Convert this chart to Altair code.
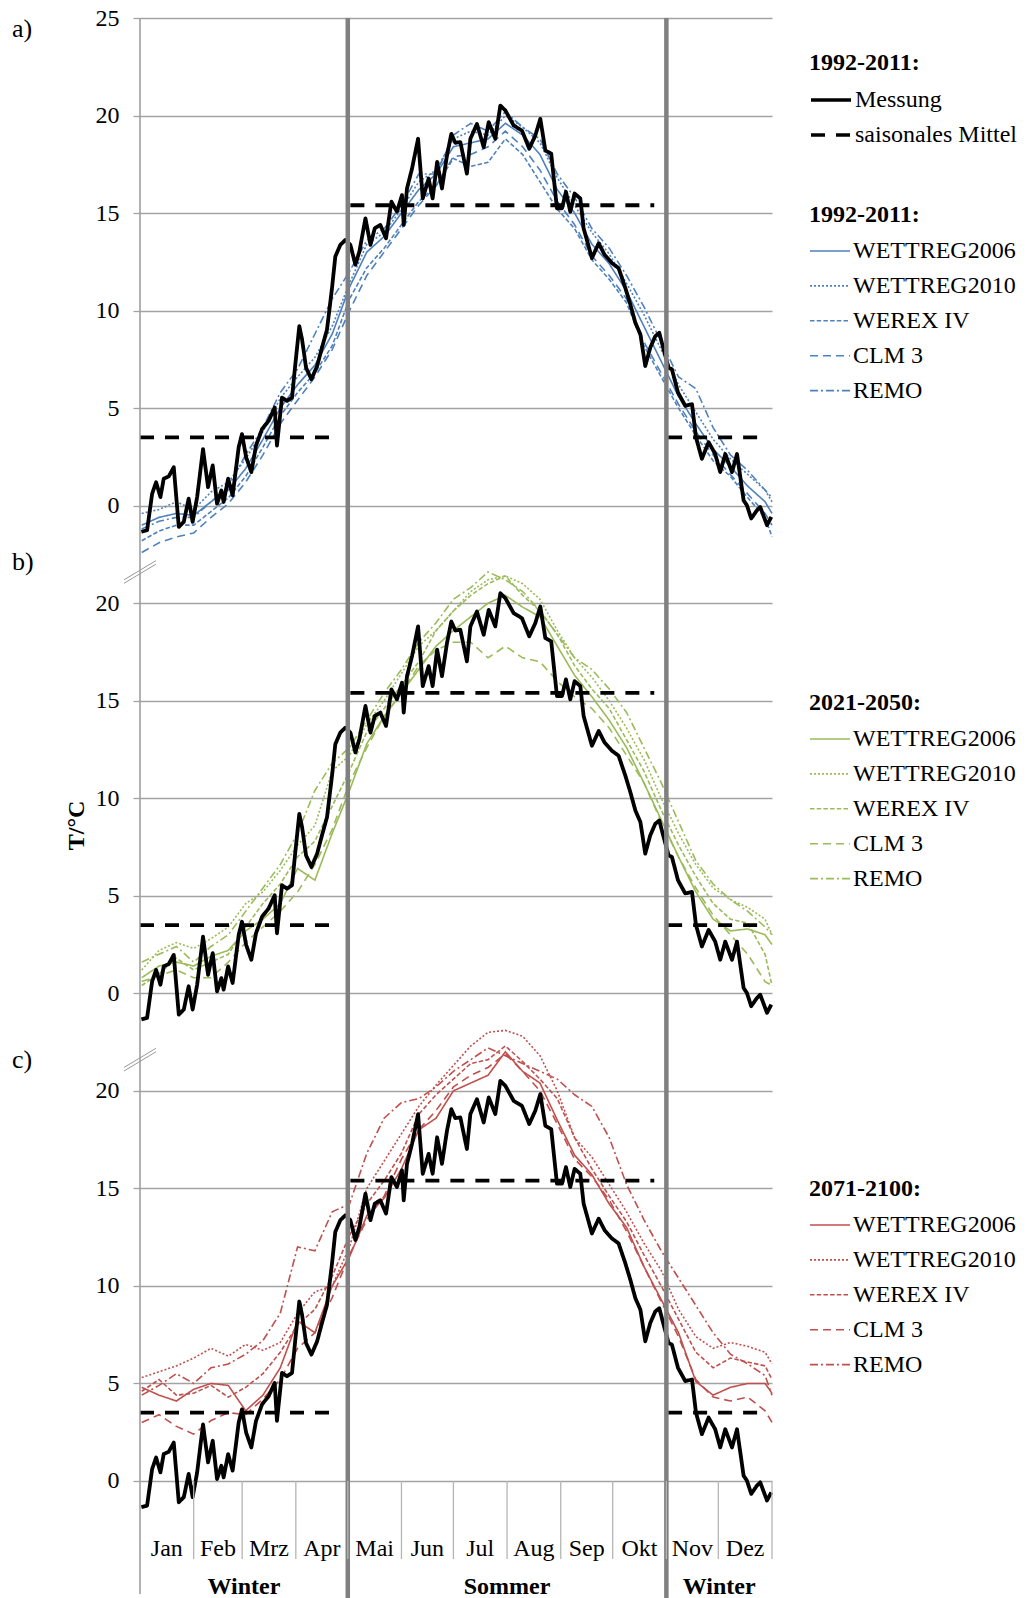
import altair as alt
import pandas as pd

FONT = "Liberation Serif"

# ---------------- categories / labels ----------------
MONTHS = ["Jan", "Feb", "Mrz", "Apr", "Mai", "Jun", "Jul", "Aug", "Sep", "Okt", "Nov", "Dez"]
MONTH_EDGES = [0, 31, 59, 90, 120, 151, 181, 212, 243, 273, 304, 334, 365]
SEASONS = ["Winter", "Sommer", "Winter"]
SEASON_MID = [60, 212, 334.5]
SEASON_EDGES = [120, 304]
PANELS = ["a", "b", "c"]
PANEL_LABELS = ["a)", "b)", "c)"]
PERIODS = ["1992-2011:", "1992-2011:", "2021-2050:", "2071-2100:"]
MODELS = ["WETTREG2006", "WETTREG2010", "WEREX IV", "CLM 3", "REMO"]
MESS_SERIES = ["Messung", "saisonales Mittel"]

# ---------------- measured series (same in all panels) ----------------
MESS_DAY = [0.8, 4.1, 7.0, 9.3, 11.8, 13.7, 16.6, 19.5, 22.4, 25.3,
            28.1, 30.4, 33.0, 36.4, 39.3, 42.0, 44.5, 47.0, 48.3, 50.9,
            53.5, 57.0, 58.9, 61.3, 64.3, 67.0, 70.5, 74.3, 77.8, 79.1,
            82.0, 84.9, 87.8, 89.7, 92.0, 93.6, 95.9, 99.0, 102.3, 105.1,
            108.0, 110.9, 112.8, 115.7, 118.6, 121.5, 124.4, 126.7, 130.2, 133.1,
            135.6, 138.8, 142.1, 145.2, 148.4, 151.3, 152.3, 154.2, 157.1, 160.6,
            163.3, 166.7, 169.0, 171.6, 174.4, 177.3, 179.8, 182.1, 185.0, 188.8,
            190.8, 194.6, 198.5, 201.4, 205.2, 208.1, 211.0, 215.8, 220.6, 224.8,
            228.3, 231.2, 234.1, 237.5, 240.8, 243.7, 246.0, 248.5, 251.0, 254.3,
            256.2, 261.0, 264.9, 268.3, 272.6, 276.4, 280.3, 283.2, 286.1, 289.0,
            291.8, 294.7, 297.6, 299.9, 302.4, 305.3, 307.2, 310.7, 314.9, 318.8,
            321.1, 324.5, 328.4, 332.2, 335.1, 338.0, 341.9, 344.8, 348.6, 350.5,
            353.0, 356.3, 358.2, 362.1, 364.6]
MESS_T = [-1.34, -1.26, 0.61, 1.2, 0.44, 1.38, 1.5, 1.97, -1.09, -0.83,
          0.36, -0.83, 0.44, 2.9, 0.95, 2.06, 0.1, 0.78, 0.19, 1.38,
          0.53, 3.0, 3.67, 2.48, 1.72, 3.08, 3.93, 4.35, 5.03, 3.08,
          5.54, 5.37, 5.54, 7.24, 9.2, 8.52, 7.07, 6.48, 7.16, 8.1,
          9.03, 11.16, 12.77, 13.37, 13.62, 13.37, 12.35, 13.03, 14.73, 13.37,
          14.22, 14.39, 13.71, 15.58, 15.07, 15.92, 14.39, 16.26, 17.28, 18.81,
          15.75, 16.77, 15.75, 17.62, 16.26, 17.96, 19.06, 18.6, 18.64, 17.02,
          18.81, 19.57, 18.38, 19.66, 18.81, 20.51, 20.26, 19.49, 19.23, 18.3,
          18.98, 19.83, 18.21, 18.04, 15.24, 15.24, 16.09, 15.07, 16.0, 15.75,
          14.22, 12.69, 13.45, 12.86, 12.43, 12.18, 11.16, 10.31, 9.37, 8.78,
          7.16, 8.1, 8.69, 8.86, 8.01, 7.07, 6.99, 5.8, 5.12, 5.2,
          3.5, 2.4, 3.25, 2.65, 1.72, 2.65, 1.72, 2.65, 0.27, 0.02,
          -0.66, -0.24, -0.07, -1.0, -0.58]

# seasonal means of the measurement
MEAN_START = [0, 121.5, 305]
MEAN_END = [113, 297, 357]
MEAN_T = [3.5, 15.4, 3.5]

# ---------------- model series ----------------
MODEL_DAY = [1, 11, 21, 31, 41, 51, 61, 71, 81, 91, 101, 111, 121, 131, 141, 151, 161, 171, 181,
             191, 201, 211, 221, 231, 241, 251, 261, 271, 281, 291, 301, 311, 321, 331, 341, 351, 361, 365]

A_WETTREG2006 = [-1.0, -0.6, -0.4, -0.5, 0.2, 0.8, 1.9, 3.4, 5.0, 6.2, 7.2, 8.8, 11.2,
                 13.0, 13.8, 15.0, 16.2, 17.0, 18.4, 18.6, 18.8, 19.6, 19.0, 18.0, 16.2, 15.0,
                 13.4, 12.4, 11.0, 9.2, 7.4, 5.6, 4.2, 2.9, 2.0, 1.0, 0.2, -0.4]
A_WETTREG2010 = [-0.4, -0.2, 0.2, -0.2, 0.7, 1.2, 2.4, 3.8, 5.5, 6.6, 7.6, 9.2, 11.4,
                 13.4, 14.0, 15.2, 16.6, 17.2, 18.8, 19.2, 19.0, 20.0, 19.4, 18.6, 16.8, 15.4,
                 14.0, 12.9, 11.4, 9.8, 8.0, 6.2, 4.8, 3.4, 2.4, 1.6, 0.8, 0.2]
A_WEREX = [-1.8, -1.3, -1.0, -1.0, -0.3, 0.4, 1.5, 3.0, 4.6, 5.8, 6.8, 8.2, 10.6,
           12.2, 13.2, 14.4, 15.6, 16.4, 17.8, 17.4, 17.6, 18.8, 18.0, 16.6, 15.2, 14.2,
           12.6, 11.6, 10.4, 8.2, 6.6, 5.0, 3.6, 2.3, 1.5, 0.4, -0.6, -1.6]
A_CLM3 = [-2.4, -1.9, -1.6, -1.4, -0.6, 0.1, 1.2, 2.6, 4.2, 5.4, 6.6, 8.0, 10.0,
          11.8, 13.0, 14.2, 15.4, 16.4, 17.9, 18.0, 18.4, 19.2, 18.4, 17.2, 15.6, 14.4,
          12.8, 11.8, 10.6, 8.4, 6.8, 5.2, 3.8, 2.6, 1.6, 0.6, -0.4, -1.0]
A_REMO = [-1.2, -0.8, -0.6, -0.6, 0.2, 1.0, 2.6, 4.0, 5.8, 7.0, 8.8, 10.6, 12.0,
          13.6, 14.2, 15.4, 17.0, 17.0, 19.0, 19.6, 19.2, 20.2, 19.4, 18.8, 17.0, 15.8,
          14.2, 13.2, 11.8, 10.2, 8.4, 6.6, 6.0, 4.0, 2.6, 1.8, 0.8, 0.4]

B_WETTREG2006 = [0.8, 1.4, 1.6, 1.4, 1.9, 2.2, 3.2, 3.8, 4.6, 6.4, 5.8, 8.2, 10.4,
                 12.8, 14.2, 15.4, 16.6, 17.8, 18.6, 19.3, 20.0, 20.4, 19.8, 19.3, 17.8, 16.3,
                 15.2, 14.0, 12.6, 10.8, 8.9, 7.0, 5.2, 3.8, 3.2, 3.3, 3.0, 2.5]
B_WETTREG2010 = [1.2, 2.2, 2.6, 2.3, 2.8, 3.4, 4.6, 5.2, 6.3, 7.6, 8.6, 11.4, 12.2,
                 13.8, 15.0, 16.4, 17.8, 18.6, 19.6, 20.6, 21.2, 21.4, 21.0, 20.2, 18.6, 17.2,
                 16.2, 15.0, 13.6, 12.0, 10.0, 8.2, 6.6, 5.4, 4.8, 4.4, 3.8, 3.0]
B_WEREX = [0.4, 1.0, 1.8, 1.2, 1.6, 2.0, 3.4, 4.6, 5.6, 7.0, 7.8, 9.6, 11.4,
           13.4, 14.6, 15.8, 17.0, 18.6, 19.6, 20.4, 21.0, 21.4, 20.4, 19.6, 18.4, 16.8,
           15.6, 14.6, 13.0, 11.4, 9.4, 7.6, 6.0, 4.6, 3.8, 3.6, 2.0, 0.4]
B_CLM3 = [0.6, 0.9, 1.2, 0.8, 0.8, 1.6, 2.6, 3.4, 4.2, 5.2, 6.6, 8.4, 10.8,
          12.6, 14.2, 15.4, 16.8, 17.6, 18.0, 18.0, 17.2, 17.8, 17.2, 17.0, 16.0, 15.2,
          14.6, 13.6, 12.2, 10.8, 8.8, 7.0, 5.4, 4.0, 3.0, 2.0, 0.6, 0.4]
B_REMO = [1.6, 2.0, 2.4, 1.6, 2.4, 3.0, 4.2, 5.4, 6.6, 8.2, 10.4, 11.8, 12.6,
          14.0, 15.4, 16.6, 18.0, 19.0, 20.2, 20.8, 21.6, 21.2, 20.6, 19.6, 18.4, 17.2,
          16.6, 15.6, 14.4, 12.6, 10.8, 8.8, 6.8, 5.6, 4.8, 4.2, 3.4, 3.0]

C_WETTREG2006 = [4.8, 4.4, 4.1, 4.7, 5.0, 4.9, 3.6, 4.4, 5.8, 8.2, 7.6, 10.0, 11.5,
                 13.6, 14.5, 16.0, 18.0, 18.6, 20.0, 20.4, 20.8, 22.0, 21.0, 20.4, 18.5, 16.7,
                 15.7, 14.2, 13.0, 11.0, 9.3, 7.6, 5.1, 4.4, 4.8, 5.0, 5.0, 4.5]
C_WETTREG2010 = [5.3, 5.6, 5.9, 6.3, 6.8, 6.4, 7.0, 6.7, 7.1, 8.6, 9.7, 10.0, 12.0,
                 15.0, 16.4, 17.8, 19.2, 20.3, 21.3, 22.3, 23.0, 23.1, 22.8, 21.8, 20.0, 17.6,
                 16.6, 15.2, 13.8, 12.2, 10.8, 8.8, 7.4, 6.8, 7.1, 6.9, 6.6, 6.0]
C_WEREX = [4.6, 5.2, 4.4, 4.5, 4.9, 4.3, 4.8, 5.5, 6.6, 8.0, 8.8, 10.5, 12.6,
           14.2, 15.4, 16.8, 18.8, 19.8, 20.6, 21.4, 21.6, 22.3, 21.5, 20.6, 19.6, 17.6,
           16.0, 14.6, 13.3, 11.6, 10.0, 8.3, 6.6, 5.8, 6.3, 6.1, 5.9, 5.2]
C_CLM3 = [3.0, 3.4, 2.8, 2.4, 3.1, 3.5, 3.4, 4.2, 5.2, 6.8, 7.6, 9.4, 11.6,
          13.4, 14.6, 16.5, 18.0, 19.0, 20.2, 20.8, 21.2, 21.9, 21.0, 20.0, 18.3, 16.5,
          15.6, 14.4, 12.8, 11.0, 9.2, 7.4, 5.2, 4.3, 4.1, 4.3, 3.6, 3.0]
C_REMO = [4.4, 4.9, 5.5, 5.0, 5.8, 6.0, 6.5, 7.2, 8.6, 12.0, 11.8, 13.8, 14.2,
          16.8, 18.6, 19.4, 19.6, 20.2, 21.0, 21.6, 22.2, 21.8, 21.4, 21.0, 20.6, 19.8,
          19.2, 17.6, 15.2, 13.4, 11.8, 10.4, 9.0, 7.6, 6.5, 6.0, 5.4, 4.4]

# ---------------- styles ----------------
BLUE, GREEN, RED = "#4F81BD", "#9BBB59", "#C0504D"
GRID = "#a3a3a3"
MODEL_DASH = [[1, 0], [2, 2], [4.5, 2.2], [8, 5], [8, 3, 2, 3]]
MESS_DASH = [[1, 0], [14, 11]]
OFFSET_EXPR = "datum.T + (datum.panel == 'a' ? 50 : (datum.panel == 'b' ? 25 : 0))"

xs = alt.Scale(domain=[0, 365], nice=False, zero=False)
ys = alt.Scale(domain=[-4, 75], nice=False, zero=False)

yaxis = alt.Axis(
    values=list(range(0, 76, 5)),
    labelExpr="datum.value >= 50 ? datum.value - 50 : (datum.value >= 25 ? datum.value - 25 : datum.value)",
    grid=True, gridColor=GRID, gridWidth=1.3,
    domain=False, ticks=True, tickSize=7, tickColor=GRID, tickWidth=1.3,
    labelFont=FONT, labelFontSize=24, labelColor="#000", labelPadding=14,
    labelFlush=False, labelOverlap=False, labelBound=False,
    title="T/°C", titleFont=FONT, titleFontSize=24, titleFontWeight="bold", titleColor="#000",
    titleAngle=270, titleX=-64, titleY=807, titleAlign="center", titleBaseline="middle",
)


def make_legend(title, y, color, width, rowpad):
    return alt.Legend(
        title=title, orient="none", legendX=669, legendY=y, direction="vertical",
        symbolType="stroke", symbolStrokeColor=color, symbolStrokeWidth=width,
        symbolSize=1600, rowPadding=rowpad, labelOffset=2, padding=0, titlePadding=3,
        labelLimit=400, titleLimit=400, labelFont=FONT, labelFontSize=24, labelColor="#000",
        titleFont=FONT, titleFontSize=24, titleFontWeight="bold", titleColor="#000",
    )


def model_frame(panel, series):
    rows = []
    for name, vals in zip(MODELS, series):
        for d, t in zip(MODEL_DAY, vals):
            rows.append({"panel": panel, "day": d, "T": t, "model": name})
    return pd.DataFrame(rows)


def model_layer(panel, series, color, title, ly):
    return alt.Chart(model_frame(panel, series)).transform_calculate(yt=OFFSET_EXPR).mark_line(
        color=color, strokeWidth=1.6, clip=False
    ).encode(
        x=alt.X("day:Q", scale=xs, axis=None),
        y=alt.Y("yt:Q", scale=ys, axis=yaxis),
        strokeDash=alt.StrokeDash(
            "model:N", scale=alt.Scale(domain=MODELS, range=MODEL_DASH),
            legend=make_legend(title, ly, color, 1.6, 1.9),
        ),
    )


layer_a = model_layer("a", [A_WETTREG2006, A_WETTREG2010, A_WEREX, A_CLM3, A_REMO], BLUE, PERIODS[1], 185)
layer_b = model_layer("b", [B_WETTREG2006, B_WETTREG2010, B_WEREX, B_CLM3, B_REMO], GREEN, PERIODS[2], 673)
layer_c = model_layer("c", [C_WETTREG2006, C_WETTREG2010, C_WEREX, C_CLM3, C_REMO], RED, PERIODS[3], 1159)

# measurement + seasonal means, repeated in each panel
mrows = []
for p in PANELS:
    for d, t in zip(MESS_DAY, MESS_T):
        mrows.append({"panel": p, "day": d, "T": t, "series": MESS_SERIES[0], "grp": p + "-m"})
    for i, (s, e, v) in enumerate(zip(MEAN_START, MEAN_END, MEAN_T)):
        mrows.append({"panel": p, "day": s, "T": v, "series": MESS_SERIES[1], "grp": f"{p}-s{i}"})
        mrows.append({"panel": p, "day": e, "T": v, "series": MESS_SERIES[1], "grp": f"{p}-s{i}"})
mess_df = pd.DataFrame(mrows)

mess_layer = alt.Chart(mess_df).transform_calculate(yt=OFFSET_EXPR).mark_line(
    color="#000", strokeWidth=3.8, strokeJoin="round", clip=False
).encode(
    x=alt.X("day:Q", scale=xs, axis=None),
    y=alt.Y("yt:Q", scale=ys, axis=yaxis),
    detail="grp:N",
    strokeDash=alt.StrokeDash(
        "series:N", scale=alt.Scale(domain=MESS_SERIES, range=MESS_DASH),
        legend=make_legend(PERIODS[0], 33, "#000", 3.6, 1),
    ),
)

# thick season dividers
div_layer = alt.Chart(pd.DataFrame({"day": SEASON_EDGES})).mark_rule(
    color="#808080", strokeWidth=4.5, clip=False
).encode(
    x=alt.X("day:Q", scale=xs, axis=None),
    y=alt.Y(datum=75, scale=ys, axis=yaxis),
    y2=alt.Y2(datum=-6.3),
)

# left axis line
axis_layer = alt.Chart(pd.DataFrame({"day": [0]})).mark_rule(
    color="#999999", strokeWidth=1.5, clip=False
).encode(
    x=alt.X("day:Q", scale=xs, axis=None),
    y=alt.Y(datum=75, scale=ys, axis=yaxis),
    y2=alt.Y2(datum=-5.8),
)

# month separators in the category band
sep_layer = alt.Chart(pd.DataFrame({"day": MONTH_EDGES[1:]})).mark_rule(
    color="#b5b5b5", strokeWidth=1.3, clip=False
).encode(
    x=alt.X("day:Q", scale=xs, axis=None),
    y=alt.Y(datum=0, scale=ys, axis=yaxis),
    y2=alt.Y2(datum=-4),
)

# axis break marks
brows = []
for k, c in enumerate([46.6, 21.6]):
    for j, off in enumerate([-0.09, 0.09]):
        brows.append({"day": -9.2, "yt": c - 0.49 + off, "g": f"{k}{j}"})
        brows.append({"day": 9.2, "yt": c + 0.49 + off, "g": f"{k}{j}"})
break_layer = alt.Chart(pd.DataFrame(brows)).mark_line(color="#999999", strokeWidth=1, clip=False).encode(
    x=alt.X("day:Q", scale=xs, axis=None),
    y=alt.Y("yt:Q", scale=ys, axis=yaxis),
    detail="g:N",
)

month_df = pd.DataFrame({
    "mid": [(MONTH_EDGES[i] + MONTH_EDGES[i + 1]) / 2 for i in range(12)],
    "label": MONTHS,
})
month_layer = alt.Chart(month_df).mark_text(
    font=FONT, fontSize=24, color="#000", align="center", baseline="alphabetic"
).encode(
    x=alt.X("mid:Q", scale=xs, axis=None),
    y=alt.value(1538),
    text="label:N",
)

season_layer = alt.Chart(pd.DataFrame({"mid": SEASON_MID, "label": SEASONS})).mark_text(
    font=FONT, fontSize=24, fontWeight="bold", color="#000", align="center", baseline="alphabetic"
).encode(
    x=alt.X("mid:Q", scale=xs, axis=None),
    y=alt.value(1576),
    text="label:N",
)

panel_layers = []
for lab, ypix in zip(PANEL_LABELS, [10.5, 544, 1041.5]):
    panel_layers.append(
        alt.Chart(pd.DataFrame({"label": [lab]})).mark_text(
            font=FONT, fontSize=26, color="#000", align="left", baseline="middle"
        ).encode(x=alt.value(-128), y=alt.value(ypix), text="label:N")
    )

chart = alt.layer(
    layer_a, layer_b, layer_c, mess_layer, div_layer, axis_layer, sep_layer, break_layer,
    month_layer, season_layer, *panel_layers
).resolve_scale(
    strokeDash="independent"
).properties(
    width=632, height=1541,
    padding={"left": 132, "top": 10, "right": 247, "bottom": 39},
    autosize=alt.AutoSizeParams(type="none"),
    background="white",
).configure_view(stroke=None)

chart.save("out.html", embed_options={"renderer": "svg", "actions": False})
